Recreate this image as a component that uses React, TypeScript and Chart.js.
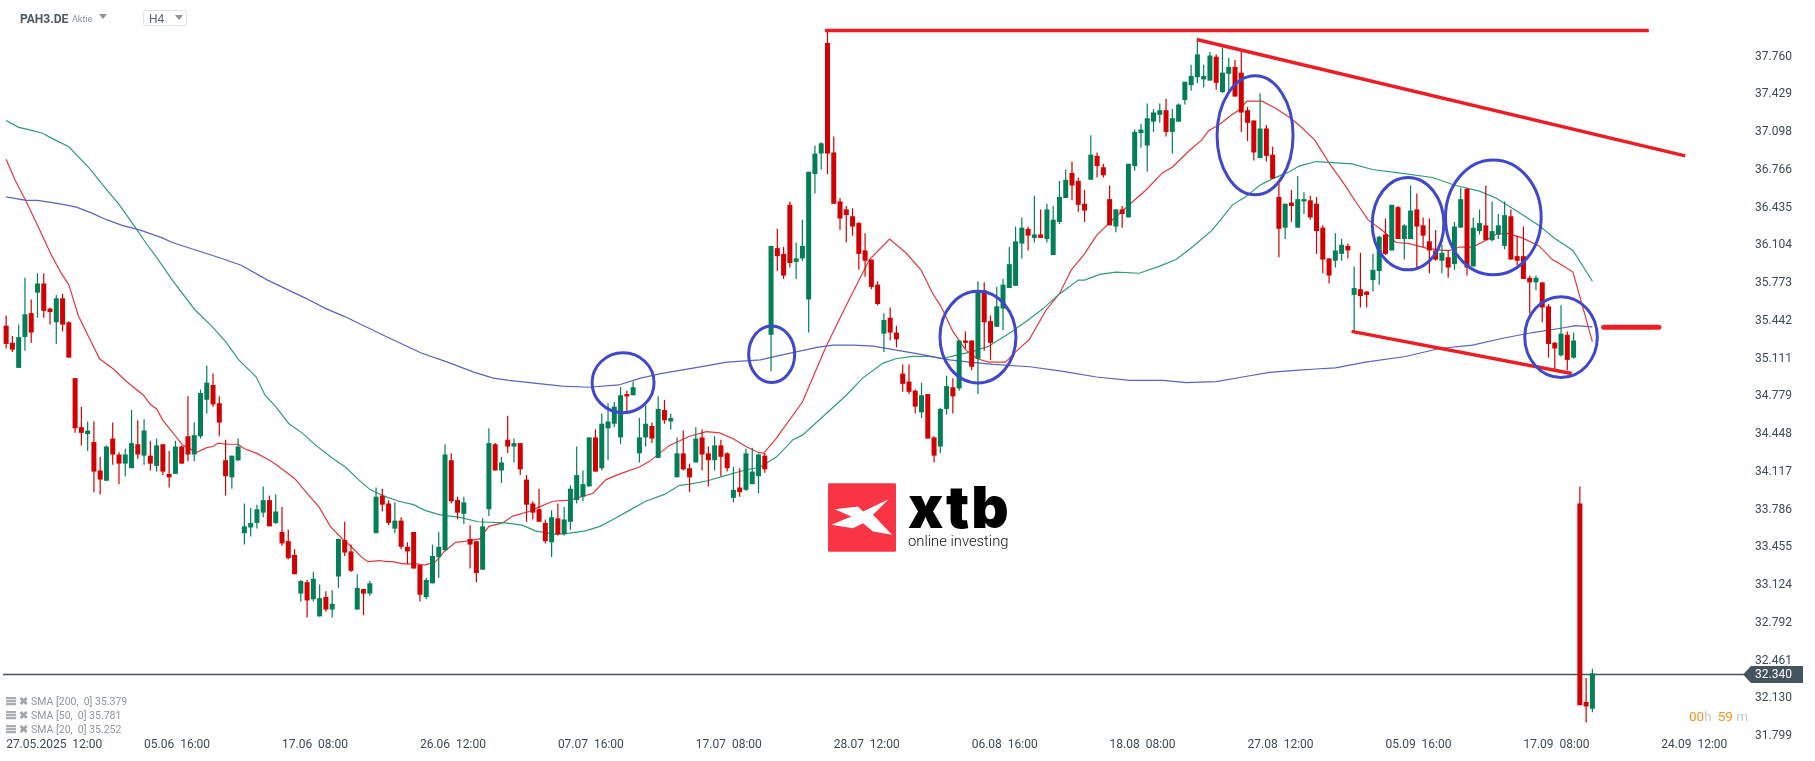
import { useEffect, useRef } from 'react';
import { Chart, registerables } from 'chart.js';

Chart.register(...registerables);

// Candles, left to right
const opens = [
  35.40,35.25,35.03,35.30,35.51,35.69,35.77,35.55,35.43,35.64,
  35.43,34.94,34.51,34.45,34.38,34.13,34.04,34.41,34.27,34.19,
  34.15,34.36,34.26,34.26,34.17,34.36,34.10,34.10,34.34,34.43,
  34.27,34.43,34.75,34.88,34.72,34.22,34.07,34.22,33.58,33.63,
  33.67,33.76,33.87,33.67,33.59,33.51,33.39,33.05,33.15,33.00,
  32.85,33.02,32.91,33.20,33.52,33.42,32.91,33.09,33.05,33.58,
  33.91,33.84,33.62,33.69,33.46,33.59,33.30,33.02,33.14,33.37,
  33.43,34.22,33.87,33.75,33.53,33.51,33.26,33.79,34.36,34.13,
  34.40,34.34,34.37,34.05,33.84,33.79,33.67,33.50,33.71,33.57,
  33.68,33.87,33.90,33.99,34.42,34.15,34.50,34.54,34.42,34.80,
  34.79,34.28,34.42,34.52,34.24,34.66,34.56,34.07,34.28,34.15,
  34.20,34.42,34.28,34.22,34.35,34.28,33.89,33.98,33.96,34.01,
  34.08,34.26,35.32,36.08,36.03,36.46,35.96,35.99,35.63,36.73,
  36.91,37.88,36.92,36.49,36.42,36.36,36.30,36.06,35.98,35.76,
  35.33,35.47,35.34,34.98,34.91,34.83,34.64,34.80,34.42,34.34,
  34.67,34.86,34.85,35.27,35.27,35.11,35.71,35.44,35.39,35.55,
  35.73,35.75,36.12,36.25,36.17,36.20,36.16,36.02,36.31,36.52,
  36.74,36.67,36.47,36.68,36.89,36.79,36.51,36.27,36.42,36.35,
  36.80,37.09,36.98,37.19,37.25,37.29,37.10,37.19,37.38,37.51,
  37.58,37.56,37.55,37.76,37.45,37.61,37.67,37.62,37.29,37.20,
  36.87,37.13,36.90,36.53,36.26,36.48,36.26,36.49,36.50,36.47,
  36.26,35.99,35.97,36.03,36.10,35.67,35.72,35.70,35.80,35.88,
  36.20,36.06,36.44,36.16,36.16,36.42,36.28,36.14,36.06,35.97,
  36.00,35.94,36.26,36.60,35.92,36.23,36.28,36.15,36.20,36.10,
  36.36,36.01,36.01,35.82,35.78,35.78,35.57,35.25,35.14,35.32,35.12,33.84,32.10,32.04,
];
const closes = [
  35.24,35.19,35.30,35.50,35.34,35.77,35.53,35.52,35.64,35.41,
  35.12,34.50,34.46,34.48,34.12,34.05,34.34,34.27,34.19,34.27,
  34.37,34.27,34.48,34.19,34.35,34.12,34.07,34.34,34.19,34.27,
  34.44,34.81,34.90,34.71,34.55,34.08,34.26,34.34,33.64,33.67,
  33.79,33.87,33.64,33.77,33.49,33.36,33.22,33.16,32.99,33.18,
  33.01,32.91,32.96,33.53,33.41,33.25,33.10,33.05,33.14,33.90,
  33.83,33.67,33.69,33.46,33.42,33.27,33.04,33.17,33.38,33.46,
  34.27,33.86,33.76,33.85,33.48,33.23,33.64,34.37,34.13,34.20,
  34.34,34.37,34.14,33.83,33.76,33.68,33.51,33.72,33.57,33.70,
  33.97,34.09,34.01,34.42,34.12,34.54,34.56,34.69,34.79,34.78,
  34.86,34.42,34.54,34.41,34.67,34.57,34.59,34.28,34.14,34.07,
  34.41,34.27,34.22,34.35,34.25,34.15,33.96,33.94,34.28,34.12,
  34.27,34.14,36.10,36.01,35.84,35.95,35.99,36.10,36.75,36.91,
  37.00,36.91,36.47,36.34,36.37,36.27,36.03,35.97,35.74,35.59,
  35.45,35.34,35.28,34.89,34.82,34.69,34.79,34.41,34.26,34.67,
  34.87,34.78,35.27,35.25,35.04,35.69,35.43,35.25,35.57,35.76,
  35.94,36.14,36.26,36.19,36.20,36.17,36.42,36.33,36.53,36.68,
  36.63,36.46,36.41,36.90,36.80,36.72,36.28,36.42,36.38,36.82,
  37.10,37.12,37.22,37.27,37.29,37.10,37.22,37.34,37.54,37.59,
  37.78,37.59,37.77,37.53,37.62,37.67,37.41,37.27,37.18,36.92,
  37.13,36.89,36.69,36.25,36.47,36.45,36.51,36.51,36.35,36.23,
  35.98,35.84,36.06,36.11,36.06,35.73,35.66,35.67,35.89,36.18,
  36.03,36.46,36.16,36.28,36.41,36.27,36.19,36.06,35.98,36.04,
  35.91,36.27,36.51,35.91,36.26,36.30,36.15,36.23,36.28,36.37,
  35.98,35.97,35.81,35.78,35.82,35.56,35.24,35.20,35.33,35.10,35.27,32.07,32.06,32.35,
];
const highs = [
  35.49,35.31,35.41,35.82,35.63,35.86,35.86,35.56,35.67,35.68,
  35.44,34.94,34.69,34.56,34.56,34.25,34.35,34.55,34.29,34.32,
  34.66,34.57,34.58,34.39,34.41,34.36,34.30,34.39,34.35,34.78,
  34.55,34.84,35.05,34.98,34.78,34.40,34.26,34.41,33.84,33.80,
  33.83,33.99,33.91,33.92,33.81,33.61,33.44,33.17,33.17,33.24,
  33.13,33.07,33.08,33.53,33.68,33.48,33.22,33.09,33.16,33.98,
  33.97,33.87,33.85,33.72,33.50,33.59,33.30,33.19,33.48,33.59,
  34.36,34.28,33.90,33.90,33.65,33.51,33.71,34.50,34.37,34.25,
  34.61,34.41,34.37,34.09,33.86,33.97,33.70,33.78,33.84,33.81,
  34.00,34.34,34.13,34.42,34.49,34.63,34.72,34.73,34.86,34.83,
  34.91,34.59,34.70,34.55,34.78,34.75,34.63,34.42,34.48,34.19,
  34.51,34.49,34.34,34.43,34.40,34.29,34.16,34.15,34.32,34.33,
  34.28,34.28,36.10,36.25,36.09,36.49,36.13,36.33,36.75,36.98,
  37.01,37.99,37.06,36.52,36.45,36.43,36.31,36.21,35.98,35.79,
  35.51,35.56,35.40,35.06,35.06,34.84,34.90,34.80,34.43,34.68,
  34.96,34.94,35.27,35.35,35.27,35.79,35.78,35.49,35.74,35.81,
  36.09,36.27,36.35,36.27,36.54,36.42,36.47,36.45,36.67,36.77,
  36.84,36.70,36.59,37.07,36.92,36.82,36.63,36.42,36.45,36.82,
  37.12,37.17,37.35,37.30,37.35,37.39,37.30,37.35,37.54,37.69,
  37.90,37.69,37.80,37.78,37.84,37.75,37.73,37.80,37.32,37.20,
  37.44,37.16,36.97,36.65,36.47,36.59,36.71,36.57,36.54,36.53,
  36.28,35.99,36.21,36.16,36.12,35.92,36.04,35.70,36.03,36.19,
  36.34,36.46,36.45,36.29,36.63,36.56,36.35,36.34,36.24,36.11,
  36.06,36.31,36.61,36.61,36.35,36.42,36.63,36.49,36.38,36.49,
  36.42,36.19,36.27,35.84,35.84,35.78,35.59,35.26,35.58,35.35,35.34,33.99,32.31,32.39,
];
const lows = [
  35.20,35.17,35.03,35.18,35.25,35.47,35.47,35.41,35.24,35.35,
  35.12,34.46,34.35,34.30,33.94,33.92,34.04,34.18,34.01,34.08,
  34.15,34.23,34.18,34.13,34.12,34.09,33.98,34.10,34.19,34.21,
  34.21,34.41,34.63,34.69,34.43,33.91,33.97,34.21,33.48,33.55,
  33.62,33.72,33.64,33.66,33.47,33.35,33.22,32.98,32.84,32.98,
  32.85,32.89,32.84,33.10,33.38,33.24,32.91,32.86,33.03,33.58,
  33.77,33.65,33.58,33.44,33.31,33.27,32.98,33.00,33.14,33.19,
  33.43,33.84,33.70,33.66,33.27,33.15,33.26,33.73,34.13,34.02,
  34.28,34.20,34.09,33.68,33.70,33.68,33.49,33.37,33.56,33.56,
  33.61,33.84,33.86,33.99,34.12,34.13,34.22,34.51,34.36,34.65,
  34.79,34.20,34.34,34.37,34.24,34.54,34.49,34.07,34.13,33.94,
  34.20,34.13,33.99,34.13,34.08,34.12,33.85,33.90,33.95,34.01,
  33.93,34.11,35.00,35.88,35.81,35.91,35.81,35.97,35.34,36.56,
  36.77,36.73,36.47,36.24,36.13,36.19,35.89,35.83,35.72,35.58,
  35.17,35.27,35.21,34.82,34.80,34.63,34.59,34.41,34.20,34.28,
  34.62,34.63,34.83,35.20,35.01,34.80,35.18,35.10,35.39,35.36,
  35.73,35.75,35.99,36.06,36.13,36.17,36.13,36.02,36.29,36.52,
  36.50,36.40,36.31,36.68,36.70,36.70,36.28,36.22,36.26,36.35,
  36.76,36.96,36.75,37.10,37.18,37.06,36.91,37.19,37.34,37.46,
  37.53,37.49,37.55,37.47,37.44,37.44,37.41,37.10,37.02,36.85,
  36.87,36.84,36.69,36.00,36.16,36.31,36.26,36.38,36.33,36.03,
  35.86,35.77,35.91,35.97,35.99,35.35,35.56,35.56,35.70,35.76,
  36.02,36.06,36.16,35.98,36.16,35.91,36.09,35.86,35.97,35.86,
  35.82,35.89,36.26,35.84,35.92,36.20,36.15,36.14,36.16,36.07,
  35.98,35.93,35.81,35.51,35.71,35.43,35.12,35.01,35.13,35.01,35.11,32.07,31.92,32.01,
];

// SMA curves, sampled as [candle index, price]
const sma20 = [
  [0,36.86],[1.4,36.68],[3.1,36.50],[5.1,36.27],[7.2,36.02],[8.9,35.85],[10,35.76],[11.5,35.49],[13,35.32],[14.9,35.11],
  [17.1,35.02],[19.2,34.91],[21.9,34.79],[23,34.71],[24,34.67],[25,34.57],[28.2,34.35],[30.4,34.29],[32,34.33],[33,34.34],
  [33.8,34.37],[35.2,34.36],[37,34.36],[38,34.32],[40,34.28],[42,34.22],[43.1,34.18],[46,34.06],[48,33.93],[49.9,33.81],
  [51.7,33.64],[53.8,33.52],[54.9,33.47],[56.7,33.37],[57.7,33.33],[59.6,33.34],[60.6,33.33],[61.7,33.33],[63.3,33.31],[65.4,33.31],
  [66.7,33.30],[68.5,33.33],[69.9,33.42],[71.7,33.50],[73.3,33.51],[75.5,33.53],[77,33.64],[79.2,33.67],[80.8,33.73],[83.4,33.77],
  [84.6,33.80],[87.2,33.86],[89.9,33.87],[93.6,33.93],[95.7,34.05],[97.9,34.10],[101,34.16],[102.6,34.21],[105.8,34.35],[109,34.43],
  [111.7,34.47],[113.8,34.46],[115.9,34.41],[118,34.34],[119.9,34.29],[120.8,34.28],[122.8,34.41],[127,34.73],[130.8,35.22],[134,35.58],
  [137.7,35.98],[140.9,36.16],[143.5,36.04],[145.9,35.89],[147.8,35.68],[149.1,35.57],[151,35.35],[153,35.19],[154.9,35.11],[156.7,35.08],
  [159.4,35.08],[161,35.17],[163.2,35.28],[165.9,35.54],[168,35.68],[169.9,35.89],[172,36.03],[173.9,36.19],[176.5,36.33],[179.7,36.49],
  [181.8,36.59],[184.4,36.74],[186,36.79],[188.6,36.93],[190.7,37.03],[191.8,37.11],[193.4,37.16],[195.5,37.25],[196.6,37.29],[197.9,37.37],
  [200.3,37.37],[202.4,37.31],[204.6,37.23],[206.2,37.16],[208.7,37.03],[211.1,36.82],[213.2,36.66],[215.1,36.50],[217.2,36.33],[219.6,36.23],
  [221.7,36.13],[223.8,36.12],[226.5,36.08],[229.1,36.06],[230.2,36.06],[231.8,36.09],[233.9,36.09],[236,36.15],[237.6,36.20],[239.5,36.21],
  [241.8,36.17],[244.5,36.10],[246.6,35.98],[248.2,35.93],[249.9,35.87],[253,35.26],
];
const sma50 = [
  [0,37.20],[2,37.14],[3.6,37.12],[5.7,37.09],[7.8,37.03],[10,36.97],[13.3,36.78],[15.8,36.61],[17.9,36.47],[20,36.31],
  [22.5,36.11],[24,36.00],[26.5,35.80],[30.1,35.54],[32.9,35.39],[35,35.26],[37.1,35.10],[39.9,34.95],[41.3,34.79],[43,34.69],
  [45.1,34.54],[47.2,34.46],[49.4,34.35],[52,34.24],[54.1,34.16],[56.2,34.05],[58.1,33.96],[60.5,33.90],[62.6,33.86],[65,33.83],
  [66.8,33.78],[69.2,33.74],[72.2,33.72],[75.3,33.68],[79.6,33.67],[82.3,33.65],[84.4,33.60],[87.5,33.57],[89.9,33.58],[92.4,33.60],
  [94.7,33.64],[96.8,33.70],[99.4,33.78],[102,33.86],[105,33.92],[107.4,34.00],[109,34.01],[111.9,34.04],[114.4,34.08],[117.6,34.13],
  [120.3,34.16],[122.9,34.25],[125.5,34.40],[127,34.44],[130.8,34.63],[134,34.79],[136.6,34.94],[139.8,35.07],[141.9,35.11],[144.5,35.13],
  [147.2,35.13],[149.3,35.11],[151.4,35.14],[154,35.17],[156.7,35.22],[159.9,35.33],[163,35.45],[165.4,35.55],[167.8,35.67],[171,35.80],
  [172,35.80],[174.4,35.85],[177,35.87],[180.7,35.86],[183.9,35.92],[186.6,35.98],[189.2,36.09],[192.4,36.24],[195.6,36.46],[197.7,36.53],
  [199.9,36.63],[202,36.69],[204.7,36.75],[206.2,36.80],[208.9,36.84],[211.5,36.83],[214.7,36.82],[217.9,36.77],[222.1,36.74],[227.5,36.70],
  [231.2,36.63],[235,36.58],[237.6,36.52],[240.8,36.41],[244.5,36.28],[246.9,36.17],[249.9,36.06],[253,35.79],
];
const sma200 = [
  [0,36.53],[3.2,36.50],[5,36.50],[8.4,36.47],[11.2,36.44],[13.6,36.39],[16,36.33],[18.5,36.28],[21.3,36.24],[24.9,36.17],
  [26.5,36.13],[33.8,36.00],[37.5,35.93],[41.7,35.80],[47.8,35.64],[51,35.55],[54,35.48],[60,35.32],[66.2,35.16],[70.4,35.08],
  [74.7,34.99],[77.7,34.94],[80.2,34.92],[83.5,34.90],[88.7,34.87],[92.9,34.86],[97.7,34.88],[101.2,34.94],[104.4,34.98],[109.8,35.03],
  [115,35.08],[120.3,35.10],[123.4,35.14],[127.7,35.19],[129.3,35.21],[131.9,35.23],[135.1,35.23],[138.3,35.22],[141.5,35.19],[145.7,35.15],
  [150.5,35.10],[153.7,35.08],[157.4,35.06],[163.3,35.04],[168.6,35.00],[173.9,34.95],[179.2,34.92],[184.5,34.92],[188.2,34.90],[193,34.91],
  [197.2,34.95],[201.5,34.99],[206.2,35.01],[208.9,35.02],[212,35.03],[216.8,35.08],[223.2,35.13],[228.6,35.20],[233.9,35.23],[238.7,35.29],
  [243.5,35.34],[248.2,35.38],[250.3,35.40],[253,35.39],
];

// Hand-drawn annotations on the chart
const trendLines = [
  [[130.6,37.99],[262,37.99]],
  [[189.9,37.91],[267.8,36.89]],
  [[214.6,35.35],[249.7,34.98]],
];
const targetLine = [[254.8,35.386],[263.6,35.386]];
// [candle index, price, radius in candles, radius in price]
const circles = [
  [98.4,34.90,4.94,0.263],
  [122.1,35.15,3.67,0.248],
  [155,35.30,6.06,0.402],
  [199.2,37.07,6.06,0.522],
  [223.6,36.295,5.71,0.405],
  [237.2,36.35,7.63,0.504],
  [248,35.30,5.79,0.354],
];

const lastPrice = 32.34;
const yTicks = [37.76,37.429,37.098,36.766,36.435,36.104,35.773,35.442,35.111,34.779,34.448,34.117,33.786,33.455,33.124,32.792,32.461,32.13,31.799];
const xLabels = ['27.05.2025  12:00','05.06  16:00','17.06  08:00','26.06  12:00','07.07  16:00','17.07  08:00','28.07  12:00','06.08  16:00','18.08  08:00','27.08  12:00','05.09  16:00','17.09  08:00','24.09  12:00'];
const BARS_PER_LABEL = 22;
const legendRows = ['SMA [200,  0] 35.379', 'SMA [50,  0] 35.781', 'SMA [20,  0] 35.252'];

const RED = '#d20000';
const GREEN = '#037f57';
const TEXT = '#3d4a54';
const FONT = 'Roboto, sans-serif';

const toPoints = (pairs: number[][]) => pairs.map(([x, y]) => ({ x, y }));

const circlesPlugin = {
  id: 'circles',
  afterDatasetsDraw(chart: any) {
    const { ctx, scales } = chart;
    ctx.save();
    ctx.strokeStyle = '#3f48cc';
    ctx.lineWidth = 3;
    circles.forEach(([cx, cy, rx, ry]) => {
      const px = scales.x.getPixelForValue(cx);
      const py = scales.y.getPixelForValue(cy);
      const prx = Math.abs(scales.x.getPixelForValue(cx + rx) - px);
      const pry = Math.abs(scales.y.getPixelForValue(cy + ry) - py);
      ctx.beginPath();
      ctx.ellipse(px, py, prx, pry, 0, 0, Math.PI * 2);
      ctx.stroke();
    });
    ctx.restore();
  },
};

// the dark price tag on the right axis
const priceTagPlugin = {
  id: 'priceTag',
  afterDraw(chart: any) {
    const { ctx, scales, chartArea } = chart;
    const y = scales.y.getPixelForValue(lastPrice);
    const tip = chartArea.right - 3;
    ctx.save();
    ctx.fillStyle = '#44545e';
    ctx.beginPath();
    ctx.moveTo(tip, y);
    ctx.lineTo(tip + 8, y - 8.5);
    ctx.lineTo(tip + 60, y - 8.5);
    ctx.lineTo(tip + 60, y + 8.5);
    ctx.lineTo(tip + 8, y + 8.5);
    ctx.closePath();
    ctx.fill();
    ctx.fillStyle = '#ffffff';
    ctx.font = `12px ${FONT}`;
    ctx.textBaseline = 'middle';
    ctx.fillText(lastPrice.toFixed(3), tip + 12, y + 0.5);
    ctx.restore();
  },
};

const PriceChart = () => {
  const chartRef = useRef<HTMLCanvasElement | null>(null);

  useEffect(() => {
    const ctx = chartRef.current?.getContext('2d');
    if (!ctx) return;

    const candleColor = (c: any) => (closes[c.dataIndex] < opens[c.dataIndex] ? RED : GREEN);
    const lineSet = (pairs: number[][], color: string, width: number, order: number) => ({
      type: 'line' as const,
      data: toPoints(pairs),
      borderColor: color,
      borderWidth: width,
      pointRadius: 0,
      tension: 0,
      order,
    });

    const chart = new Chart(ctx, {
      type: 'bar',
      data: {
        datasets: [
          lineSet(sma200, '#5a63c2', 1.2, 5),
          lineSet(sma50, '#2f9c78', 1.2, 5),
          lineSet(sma20, '#e2383c', 1.2, 5),
          lineSet([[-0.5, lastPrice], [277.5, lastPrice]], '#44545e', 1.4, 4),
          {
            data: highs.map((h, i) => ({ x: i, y: [lows[i], h] })),
            backgroundColor: candleColor,
            barThickness: 1.2,
            inflateAmount: 0,
            grouped: false,
            order: 3,
          },
          {
            data: opens.map((o, i) => ({ x: i, y: [o, closes[i]] })),
            backgroundColor: candleColor,
            barThickness: 5,
            inflateAmount: 0,
            grouped: false,
            order: 2,
          },
          ...trendLines.map((t) => lineSet(t, '#ee1c25', 3.5, 1)),
          { ...lineSet(targetLine, '#ee1c25', 5, 1), borderCapStyle: 'round' as const },
        ] as any,
      },
      options: {
        animation: false,
        responsive: false,
        devicePixelRatio: 1,
        layout: { padding: { left: 3, right: 0, top: 0, bottom: 0 } },
        plugins: { legend: { display: false }, tooltip: { enabled: false } },
        scales: {
          x: {
            type: 'linear',
            offset: false,
            min: -0.5,
            max: 277.5,
            grid: { display: false, drawTicks: false },
            border: { display: false },
            afterFit: (s: any) => { s.height = 24; },
            afterBuildTicks: (s: any) => { s.ticks = xLabels.map((_, i) => ({ value: i * BARS_PER_LABEL })); },
            ticks: {
              autoSkip: false,
              maxRotation: 0,
              minRotation: 0,
              align: 'start',
              padding: 1,
              color: TEXT,
              font: { family: FONT, size: 12 },
              callback: (_v: any, i: number) => xLabels[i],
            },
          },
          y: {
            position: 'right',
            min: 31.792,
            max: 38.257,
            grid: { display: false, drawTicks: false },
            border: { display: false },
            // tick labels would otherwise push the plot area down from the top edge
            afterFit: (s: any) => { s.width = 69; s.paddingTop = 0; s.paddingBottom = 0; },
            afterBuildTicks: (s: any) => { s.ticks = yTicks.map((value) => ({ value })); },
            ticks: {
              autoSkip: false,
              padding: 9,
              color: TEXT,
              font: { family: FONT, size: 12 },
              callback: (v: any) => Number(v).toFixed(3),
            },
          },
        } as any,
      },
      plugins: [circlesPlugin, priceTagPlugin],
    });

    return () => {
      chart.destroy();
    };
  }, []);

  return <canvas ref={chartRef} width={1815} height={761} style={{ display: 'block' }} />;
};

const Triangle = ({ left, top }: { left: number; top: number }) => (
  <div style={{ position: 'absolute', left, top, width: 0, height: 0, borderLeft: '4px solid transparent', borderRight: '4px solid transparent', borderTop: '5px solid #8d9499' }} />
);

const App = () => (
  <div style={{ position: 'absolute', left: 0, top: 0, width: 1815, height: 761, overflow: 'hidden', background: '#fff', fontFamily: FONT }}>
    <PriceChart />

    {/* header */}
    <div style={{ position: 'absolute', left: 20, top: 12, fontSize: 12, fontWeight: 700, color: '#4a5660', lineHeight: '14px' }}>PAH3.DE</div>
    <div style={{ position: 'absolute', left: 72, top: 14, fontSize: 9, color: '#8d9499', lineHeight: '11px' }}>Aktie</div>
    <Triangle left={99} top={14} />
    <div style={{ position: 'absolute', left: 143, top: 10, width: 42, height: 14, border: '1px solid #e2e5e7', borderRadius: 2 }} />
    <div style={{ position: 'absolute', left: 149, top: 12, fontSize: 12, color: '#5c6870', lineHeight: '14px' }}>H4</div>
    <Triangle left={175} top={15} />

    {/* indicator legend */}
    {legendRows.map((row, i) => (
      <div key={row} style={{ position: 'absolute', left: 6, top: 694 + i * 14, height: 14, display: 'flex', alignItems: 'center', color: '#8f969b', fontSize: 10.5 }}>
        <div style={{ width: 10, height: 9, marginRight: 3, background: 'repeating-linear-gradient(#a9aeb2 0 2px, #e6e8ea 2px 3px)' }} />
        <div style={{ width: 12, fontSize: 11, fontWeight: 700, color: '#a0a5a9' }}>✖</div>
        <div style={{ whiteSpace: 'pre' }}>{row}</div>
      </div>
    ))}

    {/* countdown */}
    <div style={{ position: 'absolute', left: 1689, top: 708, fontSize: 13.5, lineHeight: '16px', whiteSpace: 'pre', color: '#c4c7c9' }}>
      <span style={{ color: '#f7941d' }}>00</span>h<span style={{ color: '#f7941d', marginLeft: 6 }}>59</span> m
    </div>

    {/* xtb logo */}
    <svg viewBox="685 310 204 206" style={{ position: 'absolute', left: 828, top: 483, width: 68, height: 69 }}>
      <rect x="685" y="310" width="204" height="206" rx="4" fill="#f93444" />
      <polygon points="705,388 775,380 790,395 867,358 820,405 877,465 820,455 790,430 760,445 695,435 755,410" fill="#fff" />
    </svg>
    <div style={{ position: 'absolute', left: 908, top: 476, fontFamily: 'Inter, sans-serif', fontWeight: 900, fontSize: 58, lineHeight: '62px', letterSpacing: 2, color: '#000' }}>xtb</div>
    <div style={{ position: 'absolute', left: 908, top: 532, fontWeight: 300, fontSize: 14.8, lineHeight: '18px', color: '#111' }}>online investing</div>
  </div>
);

export default App;
